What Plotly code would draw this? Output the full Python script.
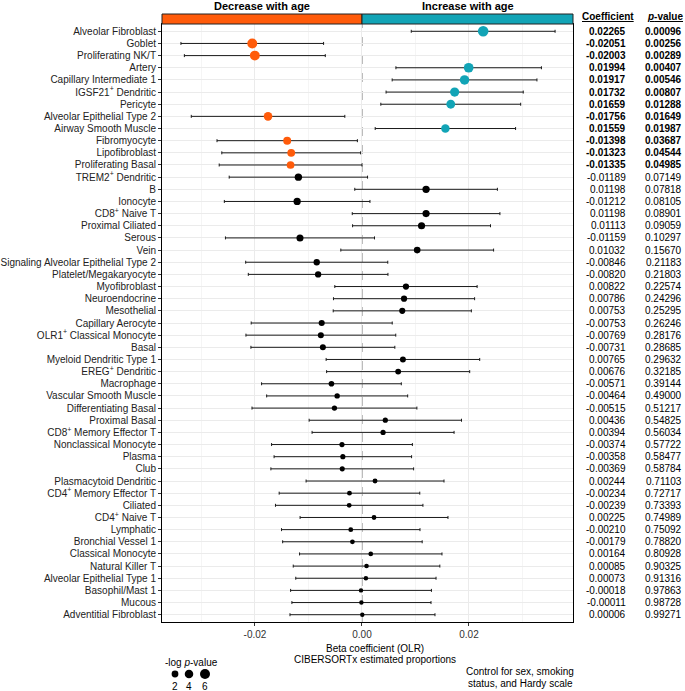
import math
import plotly.graph_objects as go

cells = [
    "Alveolar Fibroblast", "Goblet", "Proliferating NK/T", "Artery", "Capillary Intermediate 1",
    "IGSF21<sup>+</sup> Dendritic", "Pericyte", "Alveolar Epithelial Type 2", "Airway Smooth Muscle",
    "Fibromyocyte", "Lipofibroblast", "Proliferating Basal", "TREM2<sup>+</sup> Dendritic", "B",
    "Ionocyte", "CD8<sup>+</sup> Naive T", "Proximal Ciliated", "Serous", "Vein",
    "Signaling Alveolar Epithelial Type 2", "Platelet/Megakaryocyte", "Myofibroblast",
    "Neuroendocrine", "Mesothelial", "Capillary Aerocyte", "OLR1<sup>+</sup> Classical Monocyte",
    "Basal", "Myeloid Dendritic Type 1", "EREG<sup>+</sup> Dendritic", "Macrophage",
    "Vascular Smooth Muscle", "Differentiating Basal", "Proximal Basal",
    "CD8<sup>+</sup> Memory Effector T", "Nonclassical Monocyte", "Plasma", "Club",
    "Plasmacytoid Dendritic", "CD4<sup>+</sup> Memory Effector T", "Ciliated",
    "CD4<sup>+</sup> Naive T", "Lymphatic", "Bronchial Vessel 1", "Classical Monocyte",
    "Natural Killer T", "Alveolar Epithelial Type 1", "Basophil/Mast 1", "Mucous",
    "Adventitial Fibroblast",
]

coef = [
    0.02265, -0.02051, -0.02003, 0.01994, 0.01917, 0.01732, 0.01659, -0.01756, 0.01559,
    -0.01398, -0.01323, -0.01335, -0.01189, 0.01198, -0.01212, 0.01198, 0.01113, -0.01159,
    0.01032, -0.00846, -0.00820, 0.00822, 0.00786, 0.00753, -0.00753, -0.00769, -0.00731,
    0.00765, 0.00676, -0.00571, -0.00464, -0.00515, 0.00436, 0.00394, -0.00374, -0.00358,
    -0.00369, 0.00244, -0.00234, -0.00239, 0.00225, -0.00210, -0.00179, 0.00164, 0.00085,
    0.00073, -0.00018, -0.00011, 0.00006,
]

pval = [
    0.00096, 0.00256, 0.00289, 0.00407, 0.00546, 0.00807, 0.01288, 0.01649, 0.01987,
    0.03687, 0.04544, 0.04985, 0.07149, 0.07818, 0.08105, 0.08901, 0.09059, 0.10297,
    0.15670, 0.21183, 0.21803, 0.22574, 0.24296, 0.25295, 0.26246, 0.28176, 0.28685,
    0.29632, 0.32185, 0.39144, 0.49000, 0.51217, 0.54825, 0.56034, 0.57722, 0.58477,
    0.58784, 0.71103, 0.72717, 0.73393, 0.74989, 0.75092, 0.78820, 0.80928, 0.90325,
    0.91316, 0.97863, 0.98728, 0.99271,
]

ci_lo = [
    0.00921, -0.03384, -0.03320, 0.00634, 0.00564, 0.00450, 0.00352, -0.03191, 0.00247,
    -0.02710, -0.02620, -0.02669, -0.02482, -0.00135, -0.02573, -0.00182, -0.00176, -0.02552,
    -0.00396, -0.02174, -0.02125, -0.00508, -0.00533, -0.00538, -0.02071, -0.02169, -0.02076,
    -0.00670, -0.00661, -0.01877, -0.01782, -0.02056, -0.00988, -0.00933, -0.01690, -0.01643,
    -0.01703, -0.01045, -0.01548, -0.01617, -0.01157, -0.01504, -0.01483, -0.01167, -0.01285,
    -0.01238, -0.01334, -0.01310, -0.01346,
]

ci_hi = [
    0.03609, -0.00718, -0.00686, 0.03354, 0.03270, 0.03014, 0.02966, -0.00321, 0.02871,
    -0.00086, -0.00026, -0.00001, 0.00104, 0.02531, 0.00149, 0.02578, 0.02402, 0.00234,
    0.02460, 0.00482, 0.00485, 0.02152, 0.02105, 0.02044, 0.00565, 0.00631, 0.00614,
    0.02200, 0.02013, 0.00735, 0.00854, 0.01026, 0.01860, 0.01721, 0.00942, 0.00927,
    0.00965, 0.01533, 0.01080, 0.01139, 0.01607, 0.01084, 0.01125, 0.01495, 0.01455,
    0.01384, 0.01298, 0.01290, 0.01364,
]

x_ticks = [-0.02, 0.00, 0.02]
x_tick_labels = ["-0.02", "0.00", "0.02"]
size_legend_values = [2, 4, 6]

ORANGE = "#FF5B0A"
TEAL = "#12A4B6"
FONT = "Liberation Sans, Arial, sans-serif"

W, H = 685, 691
L, R, T, B = 162, 112, 24, 69
PW, PH = W - L - R, H - T - B
XMIN, XMAX = -0.03738, 0.03944


def px2x(px):
    return (px - L) / PW


def py2y(py):
    return (H - B - py) / PH


def dia(v):
    return math.sqrt(19.4 + 13.4 * v)


n = len(cells)
ys = list(range(n))
colors = []
for c, p in zip(coef, pval):
    if p < 0.05:
        colors.append(ORANGE if c < 0 else TEAL)
    else:
        colors.append("black")
sizes = [dia(-math.log(p)) for p in pval]

fig = go.Figure()
fig.add_trace(go.Scatter(
    x=coef, y=ys, mode="markers",
    marker=dict(color=colors, size=sizes, line=dict(width=0), opacity=1),
    error_x=dict(type="data", symmetric=False,
                 array=[h - c for h, c in zip(ci_hi, coef)],
                 arrayminus=[c - l for l, c in zip(ci_lo, coef)],
                 color="#1a1a1a", thickness=1, width=1.5),
    showlegend=False, hoverinfo="skip",
))

shapes = []
shapes.append(dict(type="line", xref="x", yref="paper", x0=0, x1=0, y0=0, y1=1,
                   line=dict(color="#8f8f8f", width=1.2, dash="dash"), layer="below"))
x0p = (0 - XMIN) / (XMAX - XMIN)
strip_top = 1 + 10 / PH
shapes.append(dict(type="rect", xref="paper", yref="paper", x0=0, x1=x0p, y0=1, y1=strip_top,
                   fillcolor=ORANGE, line=dict(color="#222", width=1)))
shapes.append(dict(type="rect", xref="paper", yref="paper", x0=x0p, x1=1, y0=1, y1=strip_top,
                   fillcolor=TEAL, line=dict(color="#222", width=1)))
for v, cx in zip(size_legend_values, [175, 189, 205]):
    r = dia(v) / 2
    shapes.append(dict(type="circle", xref="paper", yref="paper",
                       xsizemode="pixel", ysizemode="pixel",
                       xanchor=px2x(cx), yanchor=py2y(674),
                       x0=-r, x1=r, y0=-r, y1=r,
                       fillcolor="black", line=dict(width=0)))

ann = []


def add_text(text, px, py, size=10, xanchor="center"):
    ann.append(dict(text=text, x=px2x(px), y=py2y(py), xref="paper", yref="paper",
                    xanchor=xanchor, yanchor="middle", showarrow=False,
                    font=dict(size=size, color="black", family=FONT)))


add_text("<b>Decrease with age</b>", 262, 6, size=11)
add_text("<b>Increase with age</b>", 468, 6, size=11)
add_text("<b><u>Coefficient</u></b>", 608, 16, size=10)
add_text("<b><u><i>p</i>-value</u></b>", 665, 16, size=10)
for i, (c, p) in enumerate(zip(coef, pval)):
    cs = f"{c:.5f}"
    ps = f"{p:.5f}"
    if p < 0.05:
        cs, ps = f"<b>{cs}</b>", f"<b>{ps}</b>"
    ann.append(dict(text=cs, x=px2x(628), y=i, xref="paper", yref="y",
                    xanchor="right", yanchor="middle",
                    showarrow=False, font=dict(size=10, color="black", family=FONT)))
    ann.append(dict(text=ps, x=px2x(684), y=i, xref="paper", yref="y",
                    xanchor="right", yanchor="middle",
                    showarrow=False, font=dict(size=10, color="black", family=FONT)))

add_text("Beta coefficient (OLR)", 375, 648)
add_text("CIBERSORTx estimated proportions", 375, 659)
add_text("-log <i>p</i>-value", 191, 662)
for v, cx in zip(size_legend_values, [175, 189, 205]):
    add_text(str(v), cx, 686)
add_text("Control for sex, smoking", 520, 671)
add_text("status, and Hardy scale", 520, 683)

fig.update_layout(
    template="none",
    width=W, height=H, margin=dict(l=L, r=R, t=T, b=B, pad=0, autoexpand=False),
    paper_bgcolor="white", plot_bgcolor="white",
    font=dict(family=FONT, color="black"),
    shapes=shapes, annotations=ann, showlegend=False, hovermode=False,
    xaxis=dict(range=[XMIN, XMAX], tickvals=x_ticks, ticktext=x_tick_labels, automargin=False,
               showgrid=True, gridcolor="#EBEBEB", gridwidth=1, zeroline=False,
               minor=dict(tickvals=[-0.03, -0.01, 0.01, 0.03], showgrid=True,
                          gridcolor="#F5F5F5", gridwidth=1, ticks=""),
               ticks="outside", ticklen=3, tickcolor="#333", tickwidth=1,
               showline=True, mirror=True, linecolor="black", linewidth=1,
               tickfont=dict(size=10, color="#333", family=FONT)),
    yaxis=dict(range=[n - 1 + 0.6, -0.6], tickvals=ys, ticktext=cells, automargin=False,
               showgrid=True, gridcolor="#EBEBEB", gridwidth=1, zeroline=False,
               ticks="outside", ticklen=3, tickcolor="#333", tickwidth=1,
               showline=True, mirror=True, linecolor="black", linewidth=1,
               tickfont=dict(size=10, color="#222", family=FONT)),
)

fig.write_html("out.html", config={"displayModeBar": False, "staticPlot": True},
               post_script="document.body.style.margin='0';document.body.style.overflow='hidden';")
